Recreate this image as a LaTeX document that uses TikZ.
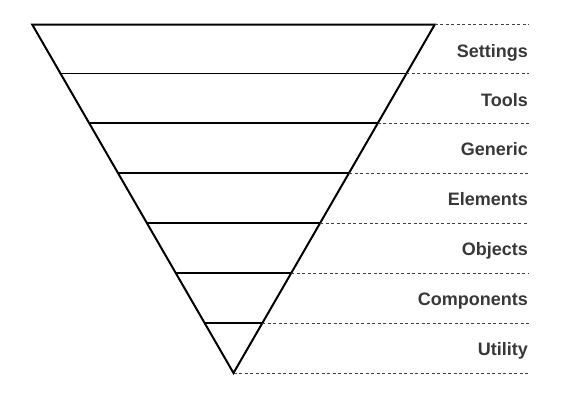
\documentclass[tikz,border=0pt]{standalone}
\usepackage{fontspec}
\setsansfont{Liberation Sans}

\begin{document}
\begin{tikzpicture}[x=1pt,y=-1pt,
	edge/.style={line width=2pt, line join=miter},
	rung/.style={line width=1.8pt},
	guide/.style={draw=black!75, dash pattern=on 3pt off 2.5pt, line width=0.9pt},
	layer/.style={anchor=base east, inner sep=0pt, text=black!78,
		font=\sffamily\bfseries\fontsize{18}{21}\selectfont}]
	\useasboundingbox (0,0) rectangle (568,405);
	\foreach \i/\y/\name in {0/24.5/Settings, 1/73.5/Tools, 2/123/Generic,
		3/173/Elements, 4/223/Objects, 5/273/Components, 6/323/Utility} {
		\pgfmathsetmacro\hw{0.5776*(373-\y)}
		\pgfmathsetmacro\ty{\y+25+7.5}
		\coordinate (L\i) at ({233.5-\hw},\y);
		\coordinate (R\i) at ({233.5+\hw},\y);
		\coordinate (E\i) at (529,\y);
		\node[layer] (lab\i) at (528,\ty) {\name};
	}
	\coordinate (apex) at (233.5,373);
	\coordinate (E7) at (529,373);

	\draw[edge] (L0) -- (R0) -- (apex) -- cycle;
	\foreach \i in {1,...,6}
		\draw[rung] (L\i) -- (R\i);
	\foreach \i in {0,...,6}
		\draw[guide] (R\i) -- (E\i);
	\draw[guide] (apex) -- (E7);
\end{tikzpicture}
\end{document}
